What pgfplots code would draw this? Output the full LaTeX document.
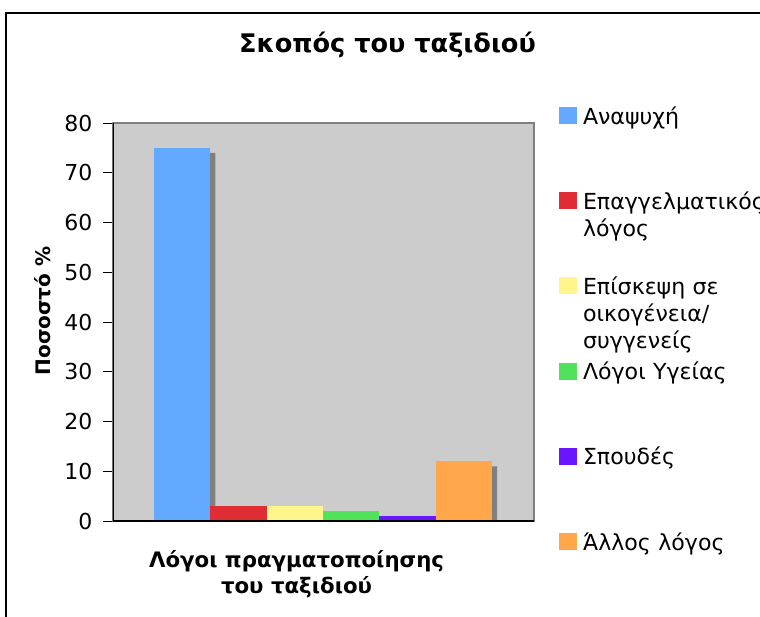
\documentclass[border=0pt]{standalone}
\usepackage{fontspec}
\setmainfont{DejaVu Sans}
\usepackage{pgfplots}
\pgfplotsset{compat=1.18}
\usetikzlibrary{calc}
\definecolor{cBlue}{HTML}{63A9FF}
\definecolor{cRed}{HTML}{E02C34}
\definecolor{cYellow}{HTML}{FFF58C}
\definecolor{cGreen}{HTML}{50E25A}
\definecolor{cPurple}{HTML}{6A14FF}
\definecolor{cOrange}{HTML}{FFA74A}
\definecolor{cShadow}{HTML}{808080}
\definecolor{cPlot}{HTML}{CCCCCC}
\begin{document}
\begin{tikzpicture}
\begin{axis}[
  width=421pt, height=398pt, scale only axis,
  xmin=-1.227, xmax=6.245, ymin=0, ymax=80,
  ytick={0,10,...,80}, xtick=\empty, ytick pos=left,
  tick align=outside, major tick length=10pt,
  ytick style={black, line width=0.9pt},
  axis background/.style={fill=cPlot},
  axis line style={draw=cShadow, line width=1.4pt},
  /pgf/number format/assume math mode=true,
  yticklabel style={font=\fontsize{22}{22}\selectfont, xshift=-7pt},
  title={\bfseries Σκοπός του ταξιδιού},
  title style={at={(axis description cs:0.652,1.1633)}, anchor=base, font=\fontsize{25.6}{30}\selectfont},
  ylabel={\bfseries Ποσοστό \%},
  ylabel style={at={(axis description cs:-0.166,0.5276)}, anchor=center, font=\fontsize{20}{24}\selectfont},
  xlabel={\bfseries Λόγοι πραγματοποίησης\\\bfseries του ταξιδιού},
  xlabel style={at={(axis description cs:0.436,-0.134)}, anchor=center, align=center, font=\fontsize{21.3}{26}\selectfont},
  legend image code/.code={\fill[#1] (0pt,0pt) rectangle (18pt,17pt);},
  legend style={at={(axis description cs:1.0594,1.0452)}, anchor=north west, draw=none, fill=none,
    row sep=0pt, column sep=6pt, inner sep=0pt, outer sep=0pt,
    cells={anchor=base west},
    nodes={inner sep=0pt, outer sep=0pt, text width=200pt, align=left, text height=19pt, text depth=66.2pt},
    font=\fontsize{22.1}{27}\selectfont},
]
% shadows
\addplot[ybar, bar width=56.4pt, bar shift=5pt, fill=cShadow, draw=none, forget plot]
  coordinates {(0,74) (1,2) (2,2) (3,1) (5,11)};
\addplot[ybar, bar width=56.4pt, bar shift=0pt, fill=cBlue, draw=none] coordinates {(0,75)};
\addlegendentry{Αναψυχή}
\addplot[ybar, bar width=56.4pt, bar shift=0pt, fill=cRed, draw=none] coordinates {(1,3)};
\addlegendentry{Επαγγελματικός\\λόγος}
\addplot[ybar, bar width=56.4pt, bar shift=0pt, fill=cYellow, draw=none] coordinates {(2,3)};
\addlegendentry{Επίσκεψη σε\\οικογένεια/\\συγγενείς}
\addplot[ybar, bar width=56.4pt, bar shift=0pt, fill=cGreen, draw=none] coordinates {(3,2)};
\addlegendentry{Λόγοι Υγείας}
\addplot[ybar, bar width=56.4pt, bar shift=0pt, fill=cPurple, draw=none] coordinates {(4,1)};
\addlegendentry{Σπουδές}
\addplot[ybar, bar width=56.4pt, bar shift=0pt, fill=cOrange, draw=none] coordinates {(5,12)};
\addlegendentry{Άλλος λόγος}
\draw[black, line width=1.2pt] (rel axis cs:0,1) -- (rel axis cs:0,0) -- (rel axis cs:1,0);
\coordinate (O) at (rel axis cs:0,0);
\end{axis}
\pgfresetboundingbox
\path[use as bounding box] ($(O)+(-113pt,-95pt)$) rectangle ($(O)+(647pt,521pt)$);
\draw[line width=2pt] ($(O)+(-107pt,-130pt)$) -- ($(O)+(-107pt,508pt)$) -- ($(O)+(680pt,508pt)$);
\end{tikzpicture}
\end{document}
